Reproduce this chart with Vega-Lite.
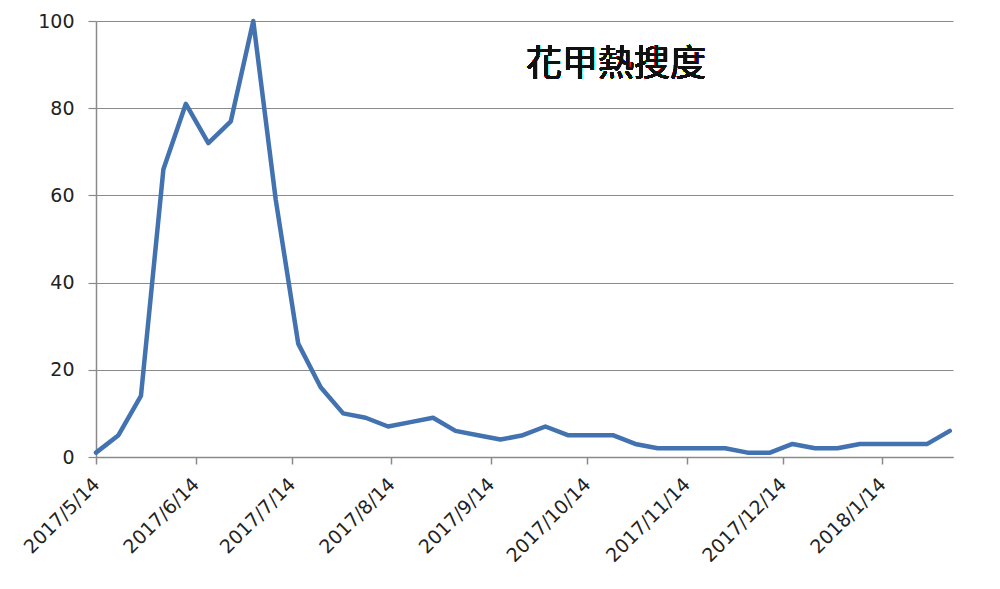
{
  "$schema": "https://vega.github.io/schema/vega-lite/v6.json",
  "autosize": "none",
  "width": 857,
  "height": 436,
  "padding": {"left": 96, "top": 21, "right": 47, "bottom": 132},
  "background": "white",
  "config": {"view": {"stroke": null}},
  "data": {
    "values": [
      {"date": "2017-05-14", "value": 1},
      {"date": "2017-05-21", "value": 5},
      {"date": "2017-05-28", "value": 14},
      {"date": "2017-06-04", "value": 66},
      {"date": "2017-06-11", "value": 81},
      {"date": "2017-06-18", "value": 72},
      {"date": "2017-06-25", "value": 77},
      {"date": "2017-07-02", "value": 100},
      {"date": "2017-07-09", "value": 59},
      {"date": "2017-07-16", "value": 26},
      {"date": "2017-07-23", "value": 16},
      {"date": "2017-07-30", "value": 10},
      {"date": "2017-08-06", "value": 9},
      {"date": "2017-08-13", "value": 7},
      {"date": "2017-08-20", "value": 8},
      {"date": "2017-08-27", "value": 9},
      {"date": "2017-09-03", "value": 6},
      {"date": "2017-09-10", "value": 5},
      {"date": "2017-09-17", "value": 4},
      {"date": "2017-09-24", "value": 5},
      {"date": "2017-10-01", "value": 7},
      {"date": "2017-10-08", "value": 5},
      {"date": "2017-10-15", "value": 5},
      {"date": "2017-10-22", "value": 5},
      {"date": "2017-10-29", "value": 3},
      {"date": "2017-11-05", "value": 2},
      {"date": "2017-11-12", "value": 2},
      {"date": "2017-11-19", "value": 2},
      {"date": "2017-11-26", "value": 2},
      {"date": "2017-12-03", "value": 1},
      {"date": "2017-12-10", "value": 1},
      {"date": "2017-12-17", "value": 3},
      {"date": "2017-12-24", "value": 2},
      {"date": "2017-12-31", "value": 2},
      {"date": "2018-01-07", "value": 3},
      {"date": "2018-01-14", "value": 3},
      {"date": "2018-01-21", "value": 3},
      {"date": "2018-01-28", "value": 3},
      {"date": "2018-02-04", "value": 6}
    ]
  },
  "layer": [
    {
      "mark": {"type": "line", "color": "#4272B0", "strokeWidth": 4.5, "strokeJoin": "round", "strokeCap": "round", "clip": false},
      "encoding": {
        "x": {
          "field": "date",
          "type": "temporal",
          "scale": {"type": "utc", "domain": [{"year": 2017, "month": 5, "date": 14, "utc": true}, {"year": 2018, "month": 2, "date": 5, "utc": true}]},
          "axis": {
            "title": null,
            "grid": false,
            "values": [
              {"year": 2017, "month": 5, "date": 14, "utc": true},
              {"year": 2017, "month": 6, "date": 14, "utc": true},
              {"year": 2017, "month": 7, "date": 14, "utc": true},
              {"year": 2017, "month": 8, "date": 14, "utc": true},
              {"year": 2017, "month": 9, "date": 14, "utc": true},
              {"year": 2017, "month": 10, "date": 14, "utc": true},
              {"year": 2017, "month": 11, "date": 14, "utc": true},
              {"year": 2017, "month": 12, "date": 14, "utc": true},
              {"year": 2018, "month": 1, "date": 14, "utc": true}
            ],
            "labelExpr": "utcFormat(datum.value, '%Y/%-m/%-d')",
            "labelAngle": -45,
            "labelAlign": "right",
            "labelBaseline": "middle",
            "labelPadding": 17,
            "labelFont": "DejaVu Sans",
            "labelFontSize": 19,
            "labelColor": "#222222",
            "labelOverlap": false,
            "labelFlush": false,
            "domainColor": "#8a8a8a",
            "domainWidth": 1.5,
            "tickColor": "#8a8a8a",
            "tickWidth": 1.5,
            "tickSize": 7
          }
        },
        "y": {
          "field": "value",
          "type": "quantitative",
          "scale": {"domain": [0, 100], "nice": false},
          "axis": {
            "title": null,
            "values": [0, 20, 40, 60, 80, 100],
            "grid": true,
            "gridColor": "#8a8a8a",
            "gridWidth": 1.2,
            "domainColor": "#8a8a8a",
            "domainWidth": 1.5,
            "tickColor": "#8a8a8a",
            "tickWidth": 1.2,
            "tickSize": 8,
            "labelPadding": 14,
            "labelFont": "DejaVu Sans",
            "labelFontSize": 19,
            "labelColor": "#222222"
          }
        }
      }
    },
    {
      "mark": {"type": "text", "font": "Noto Sans CJK TC", "fontSize": 36, "color": "#111111", "align": "center", "baseline": "middle"},
      "encoding": {
        "x": {"datum": {"year": 2017, "month": 10, "date": 23, "utc": true}, "type": "temporal"},
        "y": {"datum": 90, "type": "quantitative"},
        "text": {"value": "花甲熱搜度"}
      }
    }
  ]
}
